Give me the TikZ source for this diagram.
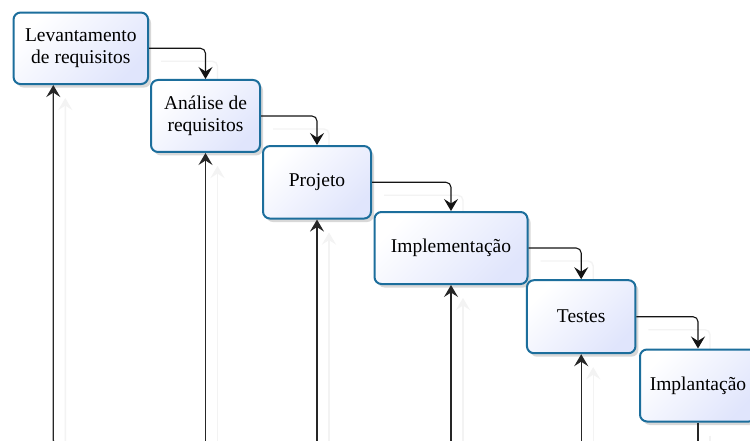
\documentclass[tikz,border=0pt]{standalone}
\usepackage{fontspec}
\setmainfont{Liberation Serif}
\usetikzlibrary{arrows.meta,shadows,backgrounds}
\definecolor{boxline}{RGB}{28,110,156}
\definecolor{boxfill}{RGB}{224,229,252}
\definecolor{faint}{RGB}{243,243,243}
\definecolor{conncol}{RGB}{20,20,20}
\begin{document}
\begin{tikzpicture}[x=1pt,y=-1pt,
  stage/.style={draw=boxline, line width=2pt, rounded corners=7pt,
    top color=white, bottom color=boxfill, shading angle=45,
    align=center, font=\fontsize{19.5}{21.5}\selectfont, inner sep=0pt,
    drop shadow={opacity=0.3, shadow xshift=3pt, shadow yshift=-3.5pt}},
  flow/.style={draw=conncol, line width=1.1pt, rounded corners=5pt,
    -{Stealth[length=12pt,width=14pt,inset=4.5pt]}},
  feedback/.style={draw=black!85, line width=1.3pt, rounded corners=6pt,
    -{Stealth[length=12pt,width=14pt,inset=4.5pt]}},
  plainline/.style={draw=black!85, line width=1.3pt},
  ghost/.style={draw=faint, line width=1.4pt}]
\useasboundingbox (0,0) rectangle (750,441);
\clip (0,0) rectangle (750,441);

\node[stage, minimum width=134.5pt, minimum height=71.5pt] (b1) at (80.8,48.3) {Levantamento\\de requisitos};
\node[stage, minimum width=109pt, minimum height=72pt] (b2) at (205.5,116) {Análise de\\requisitos};
\node[stage, minimum width=108pt, minimum height=72.5pt] (b3) at (317,182.3) {Projeto};
\node[stage, minimum width=153pt, minimum height=72pt] (b4) at (451,248) {Implementação};
\node[stage, minimum width=108.5pt, minimum height=73pt] (b5) at (581.2,316.7) {Testes};
\node[stage, minimum width=116pt, minimum height=72pt] (b6) at (698,385.5) {Implantação};

\coordinate (f1) at (66,446);
\coordinate (f2) at (b2.south |- 0,446);
\coordinate (f3) at (b3.south |- 0,446);
\coordinate (f4) at (b4.south |- 0,446);
\coordinate (f5) at (b5.south |- 0,446);
\coordinate (f6) at (b6.south |- 0,446);
\coordinate (t1) at ([xshift=-27.5pt]b1.south);

\begin{scope}[on background layer]
  \fill[white] (0,0) rectangle (750,441);
  \draw[flow, ghost] ([shift={(12,13)}]b1.east) -| ([shift={(12,13)}]b2.north);
  \draw[flow, ghost] ([shift={(12,13)}]b2.east) -| ([shift={(12,13)}]b3.north);
  \draw[flow, ghost] ([shift={(12,13)}]b3.east) -| ([shift={(12,13)}]b4.north);
  \draw[flow, ghost] ([shift={(12,13)}]b4.east) -| ([shift={(12,13)}]b5.north);
  \draw[flow, ghost] ([shift={(12,13)}]b5.east) -| ([shift={(12,13)}]b6.north);
  \draw[feedback, ghost] ([shift={(12,13)}]f1) -| ([shift={(12,13)}]t1);
  \draw[feedback, ghost] ([shift={(12,13)}]f2) -- ([shift={(12,13)}]b2.south);
  \draw[feedback, ghost] ([shift={(12,13)}]f3) -- ([shift={(12,13)}]b3.south);
  \draw[feedback, ghost] ([shift={(12,13)}]f4) -- ([shift={(12,13)}]b4.south);
  \draw[feedback, ghost] ([shift={(12,13)}]f5) -- ([shift={(12,13)}]b5.south);
  \draw[plainline, ghost] ([shift={(12,13)}]b6.south) -- ([shift={(12,13)}]f6);
\end{scope}

\draw[flow] (b1.east) -| (b2.north);
\draw[flow] (b2.east) -| (b3.north);
\draw[flow] (b3.east) -| (b4.north);
\draw[flow] (b4.east) -| (b5.north);
\draw[flow] (b5.east) -| (b6.north);

\draw[feedback] (f1) -| (t1);
\draw[feedback] (f2) -- (b2.south);
\draw[feedback] (f3) -- (b3.south);
\draw[feedback] (f4) -- (b4.south);
\draw[feedback] (f5) -- (b5.south);
\draw[plainline] (b6.south) -- (f6);
\end{tikzpicture}
\end{document}
